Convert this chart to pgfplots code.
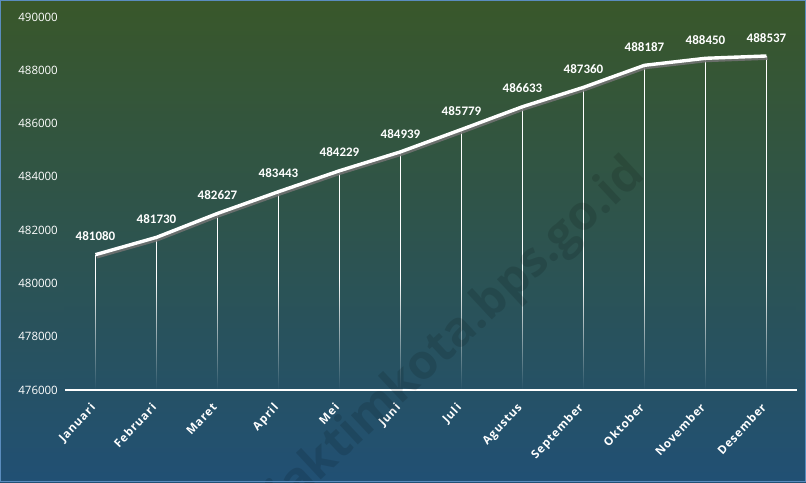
\documentclass[border=0pt]{standalone}
\usepackage{pgfplots}
\pgfplotsset{compat=1.18}
\usepackage{pgfplotstable}
\usepackage{fontspec}
\setmainfont{Open Sans}
\newfontfamily\lblfont{Carlito}
\newfontfamily\xfont[LetterSpace=8]{Open Sans}
\usetikzlibrary{fadings}
\definecolor{bgtop}{RGB}{57,87,42}
\definecolor{bgbot}{RGB}{33,80,116}
\definecolor{frame}{RGB}{90,140,190}
\tikzfading[name=fadeup, top color=transparent!100, bottom color=transparent!0]

\pgfplotstableread{
idx val
0 481080
1 481730
2 482627
3 483443
4 484229
5 484939
6 485779
7 486633
8 487360
9 488187
10 488450
11 488537
}\data

\begin{document}
\begin{tikzpicture}[x=1pt,y=1pt]
\useasboundingbox (0,0) rectangle (806,482);
\shade[top color=bgtop, bottom color=bgbot] (0,0) rectangle (806,482);
\begin{axis}[at={(65pt,92pt)}, anchor=south west, scale only axis, width=732pt, height=373pt,
  xmin=-0.5, xmax=11.5, ymin=476000, ymax=490000,
  scaled y ticks=false,
  ytick={476000,478000,480000,482000,484000,486000,488000,490000},
  yticklabels={476000,478000,480000,482000,484000,486000,488000,490000},
  xtick={0,1,2,3,4,5,6,7,8,9,10,11},
  xticklabels={Januari,Februari,Maret,April,Mei,Juni,Juli,Agustus,September,Oktober,November,Desember},
  axis x line=bottom, axis y line=left,
  y axis line style={draw=none},
  x axis line style={white, line width=1.3pt, -},
  major tick length=0pt,
  axis on top,
  yticklabel style={anchor=east, inner sep=0pt, xshift=-7pt, text=white, font=\fontsize{11.5}{13}\selectfont},
  xticklabel style={xshift=-6pt, yshift=-12pt, rotate=47, anchor=north east, inner sep=0pt, text=white, font=\xfont\bfseries\fontsize{11.5}{13}\selectfont},
]
\addplot[ycomb, white, line width=1.4pt, forget plot] table[x=idx,y=val]{\data};
\shade[top color=bgtop!41!bgbot, bottom color=bgtop!19!bgbot, path fading=fadeup] (rel axis cs:0,0) rectangle (rel axis cs:1,0.3);
\addplot[draw=black!55, opacity=0.85, line width=3.4pt, line join=round, xshift=1.2pt, yshift=-2.2pt, forget plot] table[x=idx,y=val]{\data};
\addplot[white, line width=3.4pt, line join=round,
  point meta=explicit symbolic,
  nodes near coords={\pgfplotspointmeta},
  every node near coord/.append style={anchor=south, inner sep=0pt, yshift=12pt, text=white, font=\lblfont\bfseries\fontsize{13}{14}\selectfont},
  forget plot] table[x=idx,y=val,meta=val]{\data};
\end{axis}
\begin{scope}
\clip (0,0) rectangle (806,482);
\node[rotate=43, text=black, opacity=0.12, font=\fontsize{48}{48}\selectfont\bfseries] at (458,147) {jaktimkota.bps.go.id};
\end{scope}
\draw[frame, line width=1pt] (0.5,0.5) rectangle (805.5,481.5);
\end{tikzpicture}
\end{document}
